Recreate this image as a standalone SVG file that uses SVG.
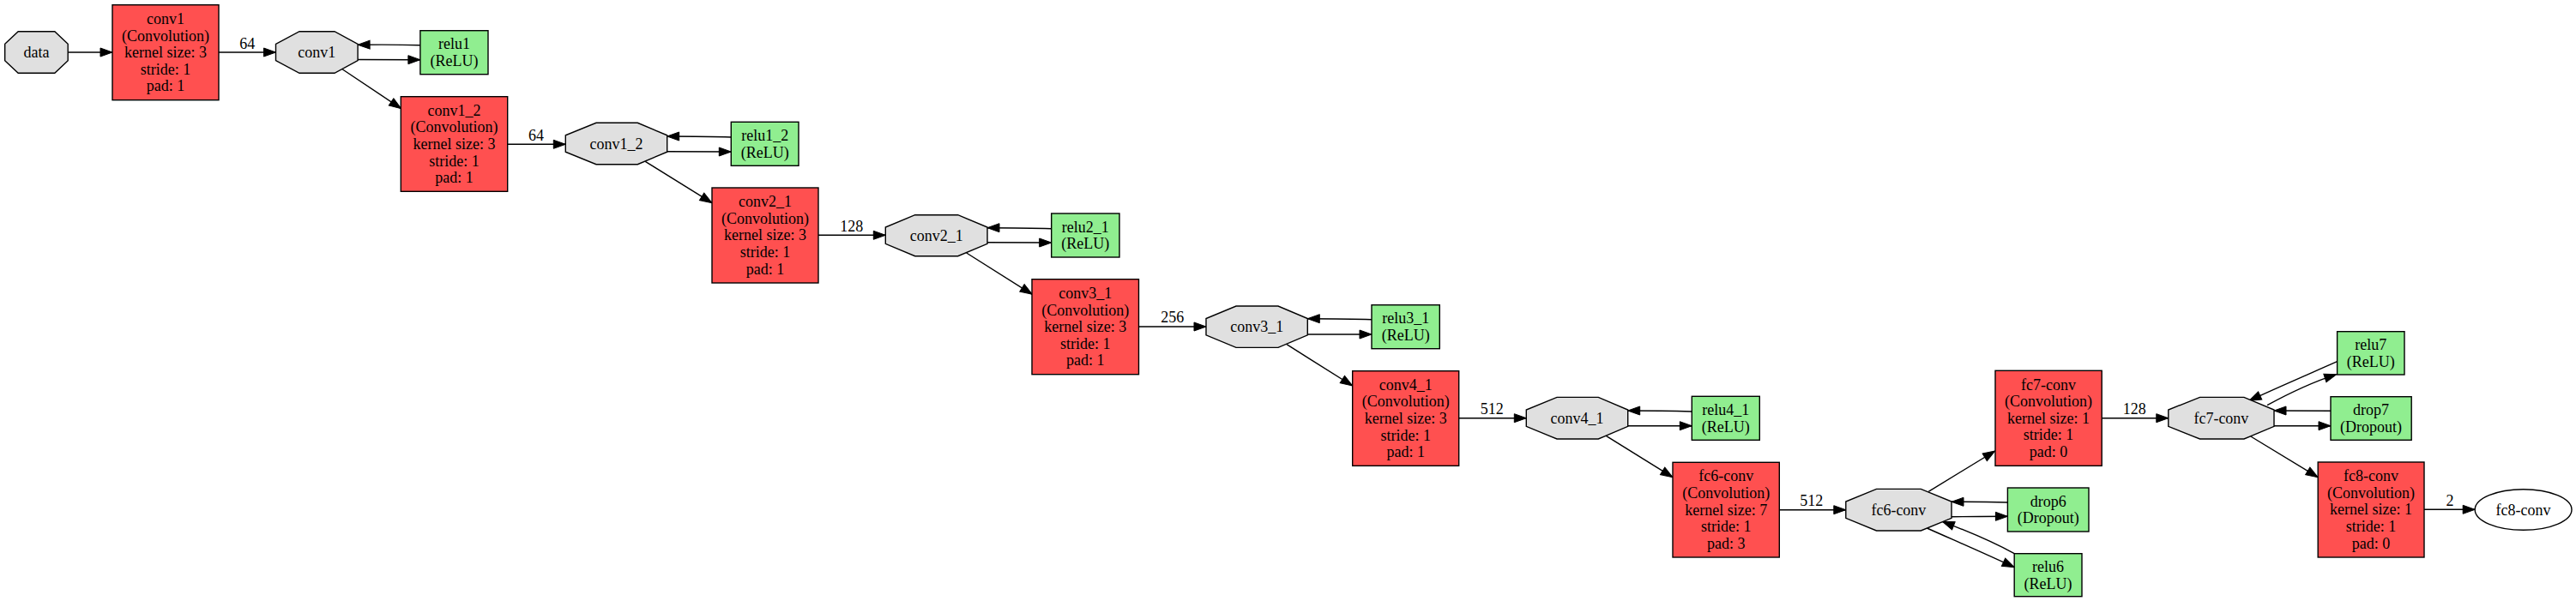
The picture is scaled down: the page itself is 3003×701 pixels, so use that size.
<svg xmlns="http://www.w3.org/2000/svg" width="3003" height="701" viewBox="0 0 3003 701">
<style>
text{font-family:"Liberation Serif","Times New Roman",serif;font-size:18px;fill:#000;text-anchor:middle}
.conv{fill:#FF5050;stroke:#000;stroke-width:1.4}
.neu{fill:#90EE90;stroke:#000;stroke-width:1.4}
.blob{fill:#E0E0E0;stroke:#000;stroke-width:1.4}
.out{fill:#fff;stroke:#000;stroke-width:1.4}
.e{fill:none;stroke:#000;stroke-width:1.4;marker-end:url(#arr)}
</style>
<defs>
<marker id="arr" markerWidth="16" markerHeight="12" refX="14" refY="5" orient="auto" markerUnits="userSpaceOnUse" overflow="visible">
<path d="M0,0 L14,5 L0,10 z" fill="#000" stroke="#000" stroke-width="1"/>
</marker>
</defs>
<rect width="3003" height="701" fill="#fff"/>

<g id="connectors">
<path class="e" d="M79.2,61 L131,61"/>
<path class="e" d="M255,61 L321.5,61"/>
<text x="288.3" y="56.7">64</text>
<path class="e" d="M489.9,52.7 C465,52 445,52 417.1,52.3"/>
<path class="e" d="M417.1,69.5 C440,69.5 465,69.7 489.9,69.7"/>
<path class="e" d="M398,80 L467.7,126.7"/>

<path class="e" d="M591.7,168.3 L659.3,168.3"/>
<text x="625" y="163.7">64</text>
<path class="e" d="M852.3,160 C825,159 805,159 777.7,159"/>
<path class="e" d="M777.7,176.7 C800,176.7 825,177 852.3,177"/>
<path class="e" d="M752.3,188.3 L830,236.7"/>

<path class="e" d="M954,274.3 L1032.3,274.3"/>
<text x="992.7" y="270.3">128</text>
<path class="e" d="M1225.7,266.7 C1200,265.8 1180,265.7 1151,265.7"/>
<path class="e" d="M1151,282.7 C1175,282.7 1200,283 1225.7,283"/>
<path class="e" d="M1126.7,295 L1203.3,343.3"/>

<path class="e" d="M1327.7,381 L1406,381"/>
<text x="1366.7" y="376">256</text>
<path class="e" d="M1599,372.7 C1575,371.8 1550,371.7 1524.3,371.7"/>
<path class="e" d="M1524.3,390 C1550,390 1575,390 1599,390"/>
<path class="e" d="M1500,401.7 L1576.7,450"/>

<path class="e" d="M1700.7,487.7 L1779.3,487.7"/>
<text x="1739.3" y="483.3">512</text>
<path class="e" d="M1972.3,480 C1945,479.2 1925,479 1897.7,479"/>
<path class="e" d="M1897.7,496.7 C1925,496.7 1945,496.7 1972.3,496.7"/>
<path class="e" d="M1872.3,508.3 L1950,556.7"/>

<path class="e" d="M2074,594.7 L2151.8,594.7"/>
<text x="2111.8" y="590.3">512</text>
<path class="e" d="M2248.2,573.3 L2325.7,526"/>
<path class="e" d="M2340.4,586 C2315,585.3 2295,585.3 2275,585.3"/>
<path class="e" d="M2275,602.7 C2300,602.7 2315,602.3 2340.4,602.3"/>
<path class="e" d="M2348.2,645.7 C2320,630 2295,620 2264.3,608.3"/>
<path class="e" d="M2246.4,616 C2280,631 2315,646 2348.2,661.7"/>

<path class="e" d="M2450.2,487.7 L2527.8,487.7"/>
<text x="2488.3" y="483.3">128</text>
<path class="e" d="M2724.6,421.7 C2690,437 2655,452 2622,467.3"/>
<path class="e" d="M2643,472.7 C2670,458 2695,446 2723.7,436.7"/>
<path class="e" d="M2717,479.3 C2690,479 2670,479 2651,479"/>
<path class="e" d="M2651,496.7 C2675,496.7 2695,496.7 2717,496.7"/>
<path class="e" d="M2623.8,509 L2702.2,556.7"/>

<path class="e" d="M2826,594.3 L2885.2,594.3"/>
<text x="2856" y="590">2</text>
</g>

<g id="data">
<polygon class="blob" points="21.2,36.7 63.8,36.7 79.2,51.3 79.2,70.7 63.8,85.3 21.2,85.3 5.7,70.7 5.7,51.3"/>
<text x="42.5" y="67">data</text>
</g>
<g id="conv1">
<rect class="conv" x="131" y="5.7" width="124" height="111"/>
<text x="193" y="27.9">conv1</text>
<text x="193" y="47.5">(Convolution)</text>
<text x="193" y="67.1">kernel size: 3</text>
<text x="193" y="86.7">stride: 1</text>
<text x="193" y="106.3">pad: 1</text>
</g>
<g id="conv1-blob">
<polygon class="blob" points="349,36.7 390,36.7 417.1,51.3 417.1,70.7 390,85.3 349,85.3 321.5,70.7 321.5,51.3"/>
<text x="369.3" y="67">conv1</text>
</g>
<g id="relu1">
<rect class="neu" x="489.9" y="35.7" width="79.1" height="51"/>
<text x="529.5" y="57.4">relu1</text>
<text x="529.5" y="77">(ReLU)</text>
</g>

<g id="conv1_2">
<rect class="conv" x="467.3" y="112.7" width="124.4" height="110.6"/>
<text x="529.5" y="134.7">conv1_2</text>
<text x="529.5" y="154.3">(Convolution)</text>
<text x="529.5" y="173.9">kernel size: 3</text>
<text x="529.5" y="193.5">stride: 1</text>
<text x="529.5" y="213.1">pad: 1</text>
</g>
<g id="conv1_2-blob">
<polygon class="blob" points="695,143.3 743.3,143.3 777.7,157.8 777.7,177.2 743.3,191.7 695,191.7 659.3,177.2 659.3,157.8"/>
<text x="718.5" y="173.5">conv1_2</text>
</g>
<g id="relu1_2">
<rect class="neu" x="852.3" y="142.3" width="78.7" height="51"/>
<text x="891.7" y="164">relu1_2</text>
<text x="891.7" y="183.6">(ReLU)</text>
</g>

<g id="conv2_1">
<rect class="conv" x="830" y="219" width="124" height="111"/>
<text x="892" y="241.2">conv2_1</text>
<text x="892" y="260.8">(Convolution)</text>
<text x="892" y="280.4">kernel size: 3</text>
<text x="892" y="300">stride: 1</text>
<text x="892" y="319.6">pad: 1</text>
</g>
<g id="conv2_1-blob">
<polygon class="blob" points="1066.7,250.7 1116.7,250.7 1151,265 1151,284.4 1116.7,298.7 1066.7,298.7 1032.3,284.4 1032.3,265"/>
<text x="1091.7" y="280.7">conv2_1</text>
</g>
<g id="relu2_1">
<rect class="neu" x="1225.7" y="249" width="79.3" height="51"/>
<text x="1265.3" y="270.7">relu2_1</text>
<text x="1265.3" y="290.3">(ReLU)</text>
</g>

<g id="conv3_1">
<rect class="conv" x="1203" y="325.7" width="124.5" height="111"/>
<text x="1265.2" y="347.9">conv3_1</text>
<text x="1265.2" y="367.5">(Convolution)</text>
<text x="1265.2" y="387.1">kernel size: 3</text>
<text x="1265.2" y="406.7">stride: 1</text>
<text x="1265.2" y="426.3">pad: 1</text>
</g>
<g id="conv3_1-blob">
<polygon class="blob" points="1441,357 1490,357 1524.3,371.5 1524.3,390.9 1490,405.4 1441,405.4 1406,390.9 1406,371.5"/>
<text x="1465.2" y="387.2">conv3_1</text>
</g>
<g id="relu3_1">
<rect class="neu" x="1599" y="355.7" width="79.3" height="51"/>
<text x="1638.7" y="377.4">relu3_1</text>
<text x="1638.7" y="397">(ReLU)</text>
</g>

<g id="conv4_1">
<rect class="conv" x="1576.7" y="432.7" width="124" height="110.6"/>
<text x="1638.7" y="454.7">conv4_1</text>
<text x="1638.7" y="474.3">(Convolution)</text>
<text x="1638.7" y="493.9">kernel size: 3</text>
<text x="1638.7" y="513.5">stride: 1</text>
<text x="1638.7" y="533.1">pad: 1</text>
</g>
<g id="conv4_1-blob">
<polygon class="blob" points="1815,463.4 1863.3,463.4 1897.7,478 1897.7,497.4 1863.3,512 1815,512 1779.3,497.4 1779.3,478"/>
<text x="1838.5" y="493.7">conv4_1</text>
</g>
<g id="relu4_1">
<rect class="neu" x="1972.3" y="462.3" width="79" height="51"/>
<text x="2011.8" y="484">relu4_1</text>
<text x="2011.8" y="503.6">(ReLU)</text>
</g>

<g id="fc6-conv">
<rect class="conv" x="1950" y="539.3" width="124.3" height="110.7"/>
<text x="2012.2" y="561.4">fc6-conv</text>
<text x="2012.2" y="581">(Convolution)</text>
<text x="2012.2" y="600.6">kernel size: 7</text>
<text x="2012.2" y="620.2">stride: 1</text>
<text x="2012.2" y="639.8">pad: 3</text>
</g>
<g id="fc6-conv-blob">
<polygon class="blob" points="2187.5,570.4 2239.3,570.4 2275,585 2275,604.4 2239.3,619 2187.5,619 2151.8,604.4 2151.8,585"/>
<text x="2213.4" y="600.7">fc6-conv</text>
</g>
<g id="drop6">
<rect class="neu" x="2340.4" y="569" width="94.6" height="51"/>
<text x="2387.7" y="590.7">drop6</text>
<text x="2387.7" y="610.3">(Dropout)</text>
</g>
<g id="relu6">
<rect class="neu" x="2348.2" y="645.7" width="78.8" height="50"/>
<text x="2387.6" y="666.9">relu6</text>
<text x="2387.6" y="686.5">(ReLU)</text>
</g>

<g id="fc7-conv">
<rect class="conv" x="2326" y="432.3" width="124.2" height="111"/>
<text x="2388.1" y="454.5">fc7-conv</text>
<text x="2388.1" y="474.1">(Convolution)</text>
<text x="2388.1" y="493.7">kernel size: 1</text>
<text x="2388.1" y="513.3">stride: 1</text>
<text x="2388.1" y="532.9">pad: 0</text>
</g>
<g id="fc7-conv-blob">
<polygon class="blob" points="2564.5,463.4 2616,463.4 2651,478 2651,497.4 2616,512 2564.5,512 2527.8,497.4 2527.8,478"/>
<text x="2589.4" y="493.7">fc7-conv</text>
</g>
<g id="relu7">
<rect class="neu" x="2724.6" y="386.7" width="78.4" height="50.3"/>
<text x="2763.8" y="408">relu7</text>
<text x="2763.8" y="427.6">(ReLU)</text>
</g>
<g id="drop7">
<rect class="neu" x="2717" y="462.7" width="94.2" height="50.6"/>
<text x="2764.1" y="484.2">drop7</text>
<text x="2764.1" y="503.8">(Dropout)</text>
</g>

<g id="fc8-conv">
<rect class="conv" x="2702.2" y="539" width="123.8" height="111"/>
<text x="2764.1" y="561.2">fc8-conv</text>
<text x="2764.1" y="580.8">(Convolution)</text>
<text x="2764.1" y="600.4">kernel size: 1</text>
<text x="2764.1" y="620">stride: 1</text>
<text x="2764.1" y="639.6">pad: 0</text>
</g>
<g id="fc8-conv-out">
<ellipse class="out" cx="2941.6" cy="594.5" rx="56.4" ry="23.8"/>
<text x="2941.6" y="600.5">fc8-conv</text>
</g>
</svg>
